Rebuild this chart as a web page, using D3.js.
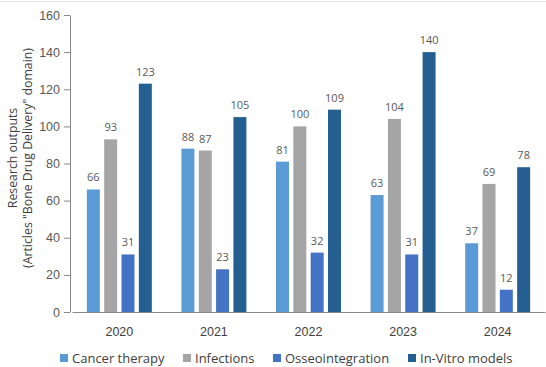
<!DOCTYPE html>
<html>
<head>
<meta charset="utf-8">
<script src="https://cdn.jsdelivr.net/npm/d3@7"></script>
<style>
  body { margin: 0; background: #fff; }
  svg { display: block; font-family: "Open Sans", "Noto Sans", sans-serif; }
</style>
</head>
<body>
<div id="chart"></div>
<script>
// data
const years = ['2020', '2021', '2022', '2023', '2024'];
const series = ['Cancer therapy', 'Infections', 'Osseointegration', 'In-Vitro models'];
const cancer = [66, 88, 81, 63, 37];
const infections = [93, 87, 100, 104, 69];
const osseo = [31, 23, 32, 31, 12];
const invitro = [123, 105, 109, 140, 78];
const y_ticks = [0, 20, 40, 60, 80, 100, 120, 140, 160];

const colors = ['#5b9bd5', '#a5a5a5', '#4472c4', '#255e91'];
const values = [cancer, infections, osseo, invitro];

const rows = [];
years.forEach((yr, i) => {
    series.forEach((s, j) => rows.push({year: yr, series: s, value: values[j][i], color: colors[j]}));
});

const width = 546, height = 367;
const svg = d3.select('#chart').append('svg')
    .attr('width', width)
    .attr('height', height);

// faint frame line on top
svg.append('line')
    .attr('x1', 0).attr('x2', width)
    .attr('y1', 1.5).attr('y2', 1.5)
    .style('stroke', '#e3e3e3');

const x0 = d3.scaleBand().domain(years).range([72, 545]).paddingInner(0.313).paddingOuter(0.157);
const x1 = d3.scaleBand().domain(series).range([0, x0.bandwidth()]).paddingInner(0.25);
const y = d3.scaleLinear([0, 160], [312, 15]);

// y axis
const y_axis = svg.append('g')
    .attr('transform', 'translate(70,0)')
    .call(d3.axisLeft(y).tickValues(y_ticks).tickSizeInner(6).tickSizeOuter(0).tickPadding(4));
y_axis.select('.domain').style('stroke', '#898989');
y_axis.selectAll('.tick line').style('stroke', '#898989');
y_axis.selectAll('.tick text').style('fill', '#595959').style('font-size', '12.5px');

// bars
svg.append('g').selectAll('rect')
    .data(rows)
    .join('rect')
    .attr('x', d => x0(d.year) + x1(d.series))
    .attr('y', d => y(d.value))
    .attr('width', x1.bandwidth())
    .attr('height', d => y(0) - y(d.value))
    .style('fill', d => d.color);

// value labels
svg.append('g').selectAll('text')
    .data(rows)
    .join('text')
    .attr('x', d => x0(d.year) + x1(d.series) + x1.bandwidth() / 2)
    .attr('y', d => y(d.value) - 8)
    .attr('text-anchor', 'middle')
    .style('font-size', '11px')
    .style('fill', '#595959')
    .text(d => d.value);

// x axis
const x_axis = svg.append('g')
    .attr('transform', 'translate(0,312)')
    .call(d3.axisBottom(x0).tickSize(0).tickPadding(15));
x_axis.select('.domain').style('stroke', '#898989');
x_axis.selectAll('.tick text').style('fill', '#404040').style('font-size', '12.5px');

// y title
const title = svg.append('text')
    .attr('transform', 'translate(0,158) rotate(-90)')
    .attr('text-anchor', 'middle')
    .style('font-size', '12.3px')
    .style('fill', '#404040');
title.append('tspan').attr('x', 0).attr('y', 17).text('Research outputs');
title.append('tspan').attr('x', 0).attr('y', 32).text('(Articles "Bone Drug Delivery" domain)');

// legend
const legend_x = [60, 183, 273, 408];
const legend = svg.append('g').selectAll('g')
    .data(series)
    .join('g')
    .attr('transform', (d, i) => `translate(${legend_x[i]},358)`);
legend.append('rect')
    .attr('x', 0).attr('y', -4)
    .attr('width', 8).attr('height', 8)
    .style('fill', (d, i) => colors[i]);
legend.append('text')
    .attr('x', 12).attr('y', 4.5)
    .style('font-size', '13px')
    .style('fill', '#404040')
    .text(d => d);
</script>
</body>
</html>
